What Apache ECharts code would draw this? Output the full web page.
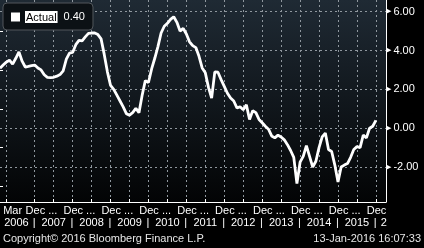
<!DOCTYPE html>
<html><head><meta charset="utf-8">
<script src="https://cdn.jsdelivr.net/npm/echarts@6/dist/echarts.min.js"></script>
<style>html,body{margin:0;padding:0;background:#000;}#c{width:424px;height:248px;}</style>
</head><body><div id="c"></div>
<script>
// Monthly values, first value = Jan 2006 (x = months since Jan 2006)
const seriesName = 'Actual';
const values = [
  3.08, 3.25, 3.40, 3.50, 3.30, 3.60, 3.93, 3.45, 3.15, 3.18, 3.22, 3.25,
  3.10, 3.00, 2.75, 2.62, 2.60, 2.62, 2.68, 2.76, 2.95, 3.55, 3.87, 3.90,
  4.30, 4.52, 4.50, 4.70, 4.88, 4.90, 4.90, 4.82, 4.60, 3.80, 2.90, 2.20,
  2.00, 1.70, 1.40, 1.10, 0.75, 0.67, 0.80, 1.02, 0.80, 1.70, 2.45, 2.35,
  3.05, 3.60, 4.20, 4.90, 5.25, 5.40, 5.60, 5.74, 5.45, 5.00, 5.14, 4.85,
  4.45, 4.25, 4.15, 3.70, 3.10, 2.85, 2.10, 1.55, 2.90, 2.88, 2.50, 2.15,
  1.80, 1.55, 1.40, 1.05, 1.10, 0.95, 1.20, 0.45, 0.90, 0.80, 0.45, 0.28,
  0.10, -0.05, -0.40, -0.50, -0.36, -0.45, -0.60, -0.85, -1.15, -1.50, -2.85, -1.75,
  -1.45, -0.90, -1.45, -2.00, -1.70, -1.00, -0.45, -0.25, -1.10, -1.20, -1.90, -2.77,
  -2.00, -1.90, -1.82, -1.50, -1.10, -0.95, -1.00, -0.36, -0.50, 0.00, 0.10, 0.40
];
// Tick / gridline months (Mar 2006, then every Jun/Dec from Dec 2006 to Dec 2015)
const gridTickMonths = [2, 11, 17, 23, 29, 35, 41, 47, 53, 59, 65, 71, 77, 83, 89, 95, 101, 107, 113, 119];
// Month labels on the first axis row
const monthLabelMonths = [2, 11, 23, 35, 47, 59, 71, 83, 95, 107, 119];
const monthTickLabels = ['Mar', 'Dec ...', 'Dec ...', 'Dec ...', 'Dec ...', 'Dec ...', 'Dec ...', 'Dec ...', 'Dec ...', 'Dec ...', 'Dec'];
// Year labels on the second axis row (centre month of each year span)
const yearLabelMonths = [5.2, 17, 29, 41, 53, 65, 77, 89, 101, 113, 121.5];
const yearLabels = ['2006', '2007', '2008', '2009', '2010', '2011', '2012', '2013', '2014', '2015', '2'];
const yearSeparatorMonths = [10.8, 22.8, 34.8, 46.8, 58.8, 70.8, 82.8, 94.8, 106.8, 118.8];
const yTicks = [-2, 0, 2, 4, 6];
const yMinorTicks = [-3, -1, 1, 3, 5];
const footerLeft = 'Copyright\u00a9 2016 Bloomberg Finance L.P.';
const footerRight = '13-Jan-2016 16:07:33';

const FONT = '"Liberation Sans", Arial, sans-serif';
const xMin = 0, xMax = 122.2;
const seriesData = values.map((v, i) => [i, v]);
const lastValue = values[values.length - 1];

const monthLabelPos = monthLabelMonths.map((m, i) => i === 0 ? 1.0 : m - 2.9);
const monthLabelMap = {};
monthLabelPos.forEach((p, i) => { monthLabelMap[p.toFixed(3)] = monthTickLabels[i]; });
const yearLabelMap = {};
yearLabelMonths.forEach((p, i) => { yearLabelMap[p.toFixed(3)] = yearLabels[i]; });
yearSeparatorMonths.forEach(p => { yearLabelMap[p.toFixed(3)] = '|'; });
const yearPos = yearLabelMonths.concat(yearSeparatorMonths);

const chart = echarts.init(document.getElementById('c'), null, {renderer: 'canvas'});
chart.setOption({
  backgroundColor: '#000',
  animation: false,
  textStyle: {fontFamily: FONT},
  title: [
    {text: footerLeft, left: 3, top: 233, padding: 0,
     textStyle: {color: '#e6e6e6', fontSize: 11, fontWeight: 'normal', fontFamily: FONT}},
    {text: footerRight, right: 3, top: 233, padding: 0,
     textStyle: {color: '#e6e6e6', fontSize: 11, fontWeight: 'normal', fontFamily: FONT}}
  ],
  legend: {
    left: 3, top: 3, padding: [8, 8, 7, 8],
    backgroundColor: '#0c1115', borderColor: '#52575c', borderWidth: 1, borderRadius: 4,
    itemWidth: 9, itemHeight: 9, icon: 'rect', selectedMode: false,
    data: [{name: seriesName, itemStyle: {color: '#fff'}}],
    formatter: name => '{a|' + name + '}{b|' + lastValue.toFixed(2) + '}',
    textStyle: {
      fontFamily: FONT, fontSize: 11,
      rich: {
        a: {backgroundColor: '#fff', color: '#000', fontSize: 11, fontFamily: FONT, padding: [1, 1, 0, 1]},
        b: {color: '#fff', fontSize: 11, fontFamily: FONT, padding: [0, 0, 0, 6]}
      }
    }
  },
  grid: {
    left: 0, right: 38, top: 0, bottom: 46, containLabel: false, outerBoundsMode: 'none',
    show: true, borderWidth: 0,
    backgroundColor: new echarts.graphic.LinearGradient(0, 0, 0, 1, [
      {offset: 0, color: '#1f2a34'}, {offset: 1, color: '#030405'}
    ])
  },
  xAxis: [
    {
      type: 'value', min: xMin, max: xMax, position: 'bottom',
      axisLine: {show: true, onZero: false, lineStyle: {color: '#fff', width: 1}},
      axisTick: {show: true, inside: true, length: 3, customValues: gridTickMonths, lineStyle: {color: '#fff'}},
      splitLine: {show: true, lineStyle: {color: '#8f979e', type: [2, 3], width: 1}},
      axisLabel: {
        show: true, customValues: monthLabelPos, align: 'left', margin: 3,
        color: '#fff', fontSize: 11, fontFamily: FONT,
        formatter: v => monthLabelMap[Number(v).toFixed(3)] || ''
      }
    },
    {
      type: 'value', min: xMin, max: xMax, position: 'bottom', offset: 12,
      axisLine: {show: false}, axisTick: {show: false}, splitLine: {show: false},
      axisLabel: {
        show: true, customValues: yearPos, align: 'center', margin: 3,
        color: '#fff', fontSize: 11, fontFamily: FONT,
        formatter: v => yearLabelMap[Number(v).toFixed(3)] || ''
      }
    }
  ],
  yAxis: [
    {
      type: 'value', min: -3.8, max: 6.6, position: 'right',
      axisLine: {show: true, onZero: false, lineStyle: {color: '#fff', width: 1}},
      axisTick: {show: false, customValues: yTicks},
      splitLine: {show: true, lineStyle: {color: '#8f979e', type: [2, 3], width: 1}},
      axisLabel: {
        show: true, customValues: yTicks, margin: 0, align: 'left',
        color: '#fff', fontSize: 11, fontFamily: FONT,
        formatter: v => '{t|\u25B6}{v|' + Number(v).toFixed(2) + '}',
        rich: {
          t: {color: '#fff', fontSize: 7, fontFamily: 'DejaVu Sans', padding: [0, 2, 0, 0]},
          v: {color: '#fff', fontSize: 11, fontFamily: FONT}
        }
      }
    },
    {
      type: 'value', min: -3.8, max: 6.6, position: 'right',
      axisLine: {show: false},
      axisTick: {show: true, length: 3, customValues: yMinorTicks, lineStyle: {color: '#fff'}},
      splitLine: {show: false},
      axisLabel: {show: false}
    }
  ],
  series: [{
    name: seriesName, type: 'line', xAxisIndex: 0, yAxisIndex: 0,
    data: seriesData, showSymbol: false, symbol: 'none',
    lineStyle: {color: '#fff', width: 2.8}, itemStyle: {color: '#fff'}
  }]
});
</script></body></html>
